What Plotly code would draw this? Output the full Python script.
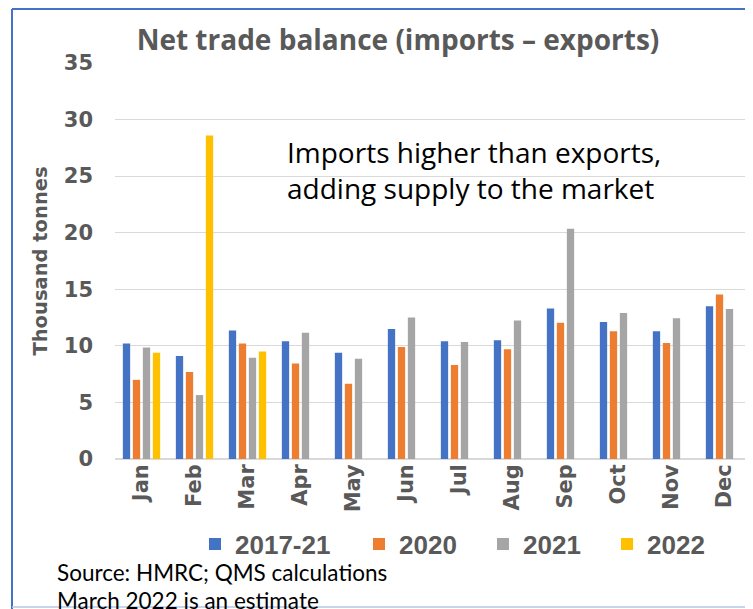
import plotly.graph_objects as go

months = ["Jan", "Feb", "Mar", "Apr", "May", "Jun", "Jul", "Aug", "Sep", "Oct", "Nov", "Dec"]
avg_2017_21 = [10.2, 9.1, 11.35, 10.4, 9.4, 11.5, 10.4, 10.5, 13.3, 12.1, 11.3, 13.5]
y2020 = [7.0, 7.7, 10.2, 8.45, 6.65, 9.9, 8.3, 9.7, 12.05, 11.3, 10.25, 14.55]
y2021 = [9.85, 5.65, 8.95, 11.15, 8.85, 12.5, 10.35, 12.25, 20.35, 12.9, 12.45, 13.25]
y2022 = [9.4, 28.6, 9.5]

series = [
    ("2017-21", avg_2017_21, "#4472C4"),
    ("2020", y2020, "#ED7D31"),
    ("2021", y2021, "#A5A5A5"),
    ("2022", y2022, "#FFC000"),
]

BOLD = "DejaVu Sans"
GREY = "#595959"

# page pixel -> paper coordinate helpers (plot area: x 115..751, y 459..63 on the page)
def px(x):
    return (x - 115) / 636

def py(y):
    return (459 - y) / 396

legend_ids = ["legend", "legend2", "legend3", "legend4"]
legend_x = [195, 359, 483, 607]

fig = go.Figure()
for (name, vals, col), lid in zip(series, legend_ids):
    fig.add_trace(go.Bar(x=months[:len(vals)], y=vals, name=name, legend=lid,
                         marker=dict(color=col, line=dict(width=0))))

legend_style = dict(orientation="h", xanchor="left", yanchor="middle", y=py(544),
                    font=dict(family="Liberation Sans", size=26, color=GREY, weight="bold"),
                    itemclick=False, bgcolor="rgba(0,0,0,0)")

fig.update_layout(
    width=745, height=601,
    margin=dict(l=107, r=2, t=55, b=150),
    paper_bgcolor="white", plot_bgcolor="white",
    barmode="group", bargap=0.245, bargroupgap=0.27,
    showlegend=True,
    title=dict(text="<b>Net trade balance (imports – exports)</b>", x=390 / 745, xanchor="center",
               y=1 - 32 / 601, yanchor="middle", font=dict(family="Open Sans", size=28, color=GREY)),
    xaxis=dict(categoryorder="array", categoryarray=months, tickangle=-90, automargin=False,
               tickfont=dict(family=BOLD, size=21, color=GREY, weight="bold"),
               showgrid=False, showline=False, zeroline=False, ticks=""),
    yaxis=dict(range=[0, 35], dtick=5, automargin=False,
               tickfont=dict(family=BOLD, size=21, color=GREY, weight="bold"),
               showgrid=True, gridcolor="#D9D9D9", gridwidth=1, zeroline=True, zerolinecolor="#D9D9D9",
               zerolinewidth=1.5, ticks="", ticklabelstandoff=21,
               title=dict(text="<b>Thousand tonnes</b>", standoff=10,
                          font=dict(family=BOLD, size=19.5, color=GREY))),
)
for lid, lx in zip(legend_ids, legend_x):
    fig.update_layout({lid: dict(legend_style, x=px(lx))})

fig.add_annotation(xref="paper", yref="paper", x=px(285), y=py(170), xanchor="left", yanchor="middle",
                   align="left", showarrow=False,
                   text="Imports higher than exports,<br>adding supply to the market",
                   font=dict(family="Open Sans", size=28, color="black"))
fig.add_annotation(xref="paper", yref="paper", x=px(55), y=py(572), xanchor="left",
                   yanchor="middle", showarrow=False, text="Source: HMRC; QMS calculations",
                   font=dict(family="Lato", size=22.5, color="black"))
fig.add_annotation(xref="paper", yref="paper", x=px(55), y=py(600), xanchor="left",
                   yanchor="middle", showarrow=False, text="March 2022 is an estimate",
                   font=dict(family="Lato", size=22.5, color="black"))

# chart frame
fig.add_shape(type="line", xref="paper", yref="paper", x0=px(12), x1=1.02,
              y0=py(9), y1=py(9), line=dict(color="#4472C4", width=2))
fig.add_shape(type="line", xref="paper", yref="paper", x0=px(12), x1=px(12),
              y0=py(9), y1=py(612), line=dict(color="#4472C4", width=2))
fig.add_shape(type="line", xref="paper", yref="paper", x0=px(12), x1=1.02,
              y0=py(607), y1=py(607), line=dict(color="#B4C7E7", width=1.5))

fig.write_html("out.html")
